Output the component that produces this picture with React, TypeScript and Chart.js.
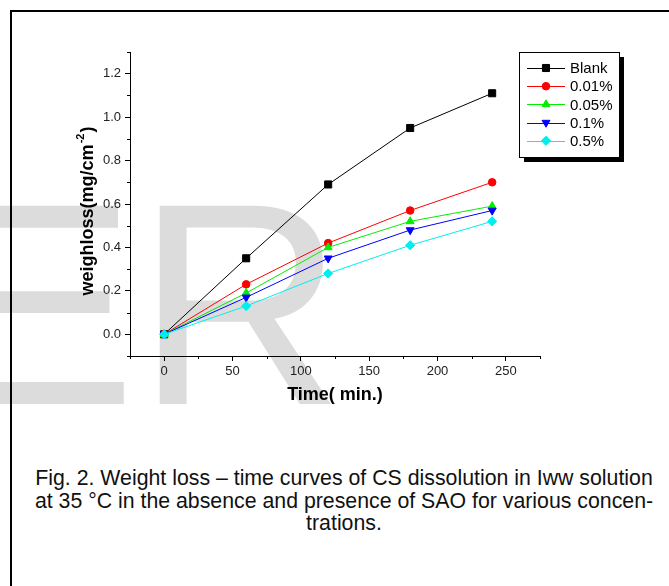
import React, { useEffect, useRef } from "react";
import { Chart, registerables } from "chart.js";
import { drawPoint } from "chart.js/helpers";

Chart.register(...registerables);

const timeMin = [0, 60, 120, 180, 240];
const blankLoss = [0, 0.35, 0.69, 0.95, 1.11];
const c001Loss = [0, 0.23, 0.42, 0.57, 0.70];
const c005Loss = [0, 0.19, 0.40, 0.52, 0.59];
const c01Loss = [0, 0.17, 0.35, 0.48, 0.57];
const c05Loss = [0, 0.13, 0.28, 0.41, 0.52];

const seriesNames = ["Blank", "0.01%", "0.05%", "0.1%", "0.5%"];
const seriesColors = ["#000000", "#ff0000", "#00ee00", "#0000ff", "#00eeee"];
const seriesStyles = ["rect", "circle", "triangle", "triangle", "rectRot"];
const seriesRotations = [0, 0, 0, 180, 0];
const seriesRadius = [5, 3.8, 4.6, 4.6, 4.6];

const xMajorTicks = [0, 50, 100, 150, 200, 250];
const xMinorTicks = [-25, 25, 75, 125, 175, 225, 275];
const yMajorTicks = [0, 0.2, 0.4, 0.6, 0.8, 1.0, 1.2];
const yMinorTicks = [-0.1, 0.1, 0.3, 0.5, 0.7, 0.9, 1.1, 1.3];

const xTitle = "Time( min.)";
const yTitleMain = "weighloss(mg/cm";
const yTitleSup = "-2";
const yTitleEnd = ")";

const captionLines = [
  "Fig. 2. Weight loss \u2013 time curves of CS dissolution in Iww solution",
  "at 35 \u00B0C in the absence and presence of SAO for various concen-",
  "trations.",
];

const FONT = "'Liberation Sans', Arial, Helvetica, sans-serif";

const extrasPlugin = {
  id: "extras",
  afterDraw(chart: any) {
    const ctx = chart.ctx;
    const xs = chart.scales.x;
    const ys = chart.scales.y;
    const area = chart.chartArea;
    ctx.save();
    // minor ticks
    ctx.strokeStyle = "#000";
    ctx.lineWidth = 1;
    ctx.beginPath();
    xMinorTicks.forEach((v) => {
      const px = Math.round(xs.getPixelForValue(v)) + 0.5;
      ctx.moveTo(px, area.bottom);
      ctx.lineTo(px, area.bottom + 3);
    });
    yMinorTicks.forEach((v) => {
      const py = Math.round(ys.getPixelForValue(v)) + 0.5;
      ctx.moveTo(area.left, py);
      ctx.lineTo(area.left - 3, py);
    });
    ctx.stroke();

    // y title with superscript
    const cy = (area.top + area.bottom) / 2 + 7;
    ctx.translate(88, cy);
    ctx.rotate(-Math.PI / 2);
    ctx.fillStyle = "#000";
    ctx.textBaseline = "middle";
    ctx.textAlign = "left";
    const mainFont = `bold 18px ${FONT}`;
    const supFont = `bold 11px ${FONT}`;
    ctx.font = mainFont;
    const w1 = ctx.measureText(yTitleMain).width;
    const w3 = ctx.measureText(yTitleEnd).width;
    ctx.font = supFont;
    const w2 = ctx.measureText(yTitleSup).width;
    let x0 = -(w1 + w2 + w3 + 2) / 2;
    ctx.font = mainFont;
    ctx.fillText(yTitleMain, x0, 0);
    x0 += w1 + 1;
    ctx.font = supFont;
    ctx.fillText(yTitleSup, x0, -7);
    x0 += w2 + 1;
    ctx.font = mainFont;
    ctx.fillText(yTitleEnd, x0, 0);
    ctx.setTransform(1, 0, 0, 1, 0, 0);

    // legend box
    const lx = 519, ly = 52, lw = 100, lh = 105;
    ctx.fillStyle = "#000";
    ctx.fillRect(lx + 5, ly + 5, lw, lh);
    ctx.fillStyle = "#fff";
    ctx.fillRect(lx, ly, lw, lh);
    ctx.strokeStyle = "#000";
    ctx.lineWidth = 1;
    ctx.strokeRect(lx + 0.5, ly + 0.5, lw, lh);
    ctx.font = `15px ${FONT}`;
    ctx.textBaseline = "middle";
    ctx.textAlign = "left";
    seriesNames.forEach((name, i) => {
      const y = 68 + i * 18.2;
      ctx.strokeStyle = seriesColors[i];
      ctx.fillStyle = seriesColors[i];
      ctx.lineWidth = 1;
      ctx.beginPath();
      ctx.moveTo(527, Math.round(y) + 0.5);
      ctx.lineTo(565, Math.round(y) + 0.5);
      ctx.stroke();
      drawPoint(
        ctx,
        {
          pointStyle: seriesStyles[i],
          rotation: seriesRotations[i],
          radius: seriesRadius[i],
          borderWidth: 1,
        },
        546,
        y
      );
      ctx.fillStyle = "#000";
      ctx.fillText(name, 570, y + 1);
    });
    ctx.restore();
  },
};

function ChartView() {
  const ref = useRef<HTMLCanvasElement | null>(null);
  useEffect(() => {
    if (!ref.current) return;
    const allData = [blankLoss, c001Loss, c005Loss, c01Loss, c05Loss];
    const datasets = allData.map((vals, i) => ({
      label: seriesNames[i],
      data: vals.map((v, j) => ({ x: timeMin[j], y: v })),
      borderColor: seriesColors[i],
      backgroundColor: seriesColors[i],
      pointBackgroundColor: seriesColors[i],
      pointBorderColor: seriesColors[i],
      pointStyle: seriesStyles[i],
      pointRotation: seriesRotations[i],
      pointRadius: seriesRadius[i],
      pointBorderWidth: 1,
      borderWidth: 1,
      tension: 0,
      fill: false,
      order: allData.length - 1 - i,
    }));
    const tickFont = { family: FONT, size: 13 };
    const chart = new Chart(ref.current, {
      type: "line",
      data: { datasets },
      options: {
        animation: false,
        responsive: false,
        events: [],
        layout: { padding: { left: 0, top: 52, right: 129, bottom: 0 } },
        plugins: {
          legend: { display: false },
          tooltip: { enabled: false },
          title: { display: false },
        },
        scales: {
          x: {
            type: "linear",
            min: -25,
            max: 275,
            afterBuildTicks: (s: any) => {
              s.ticks = xMajorTicks.map((v) => ({ value: v }));
            },
            afterFit: (s: any) => {
              s.height = 74;
            },
            grid: {
              display: true,
              drawOnChartArea: false,
              drawTicks: true,
              tickLength: 5,
              tickColor: "#000",
              color: "#000",
            },
            border: { display: true, color: "#000", width: 1 },
            ticks: {
              font: tickFont,
              color: "#222",
              padding: 3,
              autoSkip: false,
              maxRotation: 0,
              callback: (v: any) => String(v),
            },
            title: {
              display: true,
              text: xTitle,
              color: "#000",
              font: { family: FONT, size: 18, weight: "bold" },
              padding: { top: 0, bottom: 24 },
            },
          },
          y: {
            type: "linear",
            min: -0.1,
            max: 1.3,
            afterBuildTicks: (s: any) => {
              s.ticks = yMajorTicks.map((v) => ({ value: v }));
            },
            afterFit: (s: any) => {
              s.width = 130;
            },
            grid: {
              display: true,
              drawOnChartArea: false,
              drawTicks: true,
              tickLength: 5,
              tickColor: "#000",
              color: "#000",
            },
            border: { display: true, color: "#000", width: 1 },
            ticks: {
              font: tickFont,
              color: "#222",
              padding: 4,
              autoSkip: false,
              callback: (v: any) => Number(v).toFixed(1),
            },
          },
        },
      },
      plugins: [extrasPlugin],
    } as any);
    return () => chart.destroy();
  }, []);
  return (
    <canvas
      ref={ref}
      width={669}
      height={430}
      style={{ position: "absolute", left: 0, top: 0, width: 669, height: 430 }}
    />
  );
}

export default function App() {
  return (
    <div
      style={{
        position: "fixed",
        left: 0,
        top: 0,
        width: 669,
        height: 586,
        overflow: "hidden",
        background: "#fff",
        fontFamily: FONT,
      }}
    >
      <div
        style={{
          position: "absolute",
          left: -56,
          top: 160,
          fontSize: 288,
          lineHeight: "288px",
          color: "#dcdcdc",
          fontFamily: FONT,
          whiteSpace: "nowrap",
        }}
      >
        ER
      </div>
      <div
        style={{
          position: "absolute",
          left: 10,
          top: 10,
          width: 700,
          height: 700,
          borderTop: "2px solid #000",
          borderLeft: "2px solid #000",
        }}
      />
      <ChartView />
      <div
        style={{
          position: "absolute",
          left: 10,
          top: 467,
          width: 668,
          textAlign: "center",
          fontSize: 21.3,
          lineHeight: "22.5px",
          color: "#111",
          fontFamily: FONT,
        }}
      >
        {captionLines.map((l, i) => (
          <div key={i} style={{ whiteSpace: "nowrap" }}>
            {l}
          </div>
        ))}
      </div>
    </div>
  );
}
